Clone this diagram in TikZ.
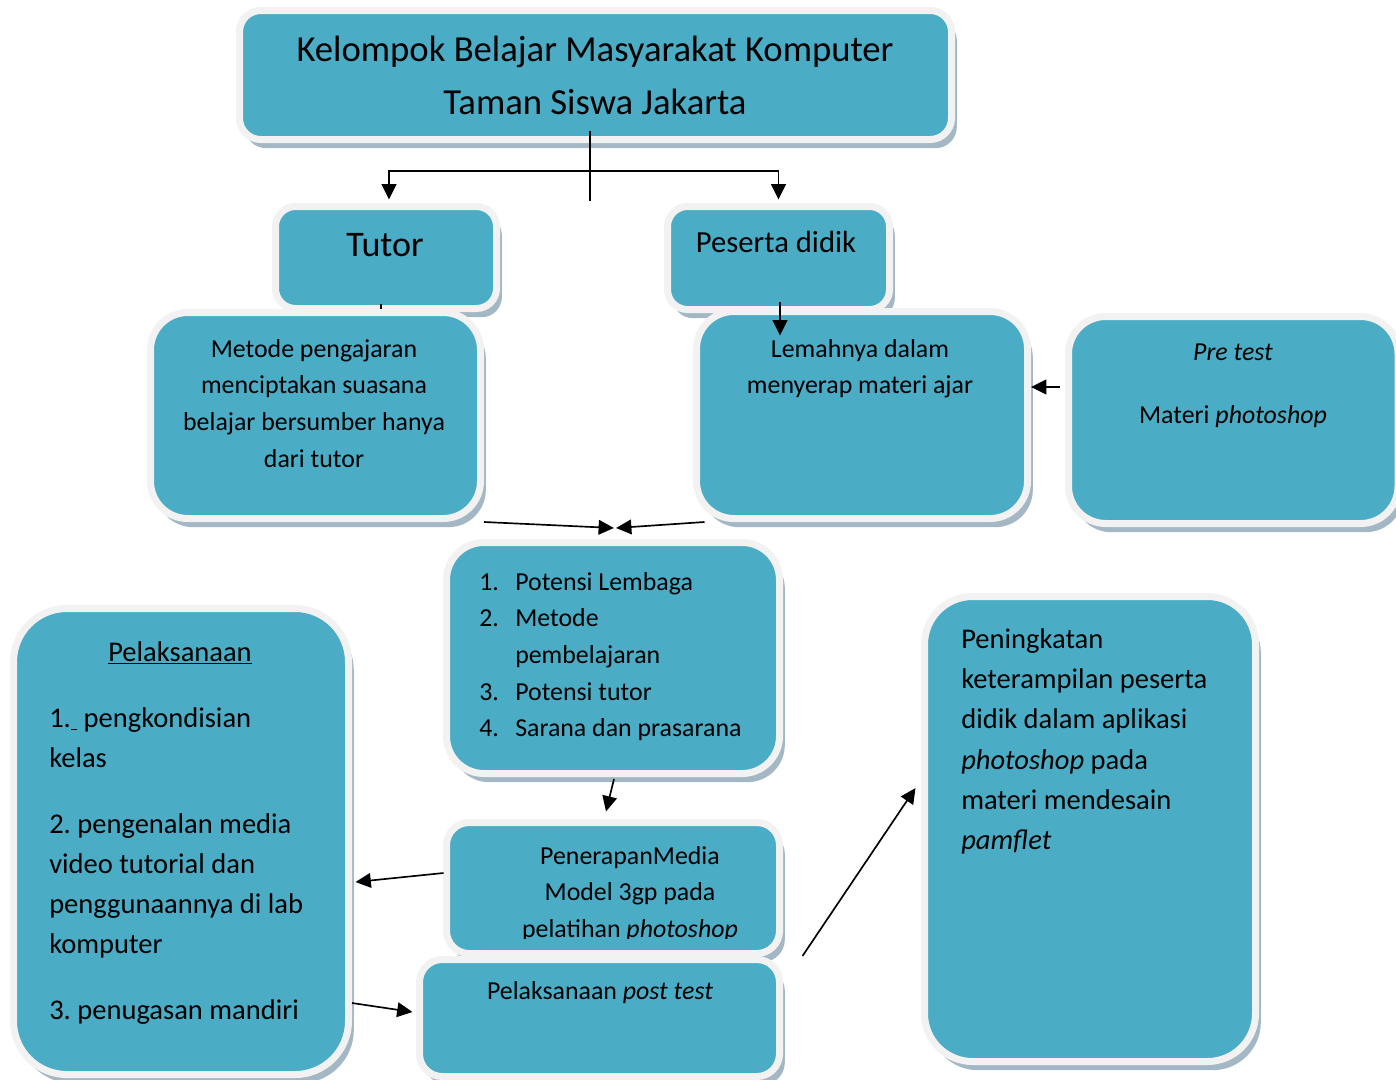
\documentclass[tikz,border=0pt]{standalone}
\usepackage{fontspec}
\setmainfont{Carlito}
\usepackage{tikz}
\usetikzlibrary{arrows.meta, calc, fit, shadows}
\frenchspacing

\definecolor{isi}{HTML}{4BACC6}
\definecolor{tepi}{HTML}{F2F2F2}
\definecolor{bayang}{HTML}{A3B8C4}

\begin{document}
\begin{tikzpicture}[
    x=0.75pt, y=-0.75pt,
    kotak/.style={fill=isi, draw=tepi, line width=5.25pt, rounded corners=#1, inner sep=0pt,
        drop shadow={shadow xshift=4pt, shadow yshift=-6.5pt, fill=bayang, opacity=1}},
    kotak/.default=15pt,
    teks/.style={inner sep=0pt, anchor=north, align=center, font=\fontsize{19.4}{27.5}\selectfont},
    garis/.style={line width=1.25pt},
    panah/.style={-{Triangle[length=11.5pt, width=11pt]}, line width=1.25pt},
]
\useasboundingbox (0,0) rectangle (1396,1079);

% judul
\node[kotak=16pt, fit={(239.5,10.5) (951.5,139.5)}] (judul) {};
\node[teks, font=\fontsize{27.5}{39.75}\selectfont] (tjudul) at (595,36)
    {Kelompok Belajar Masyarakat Komputer \\ Taman Siswa Jakarta};

\coordinate (cabang) at (590,171);
\draw[garis] ($(judul.south)+(-5.5,-12.5)$) -- ($(judul.south)+(-5.5,57.5)$);

% tutor dan peserta didik
\node[kotak, fit={(275.5,206.5) (496.5,308.5)}] (tutor) {};
\node[teks, font=\fontsize{27}{33}\selectfont] (ttutor) at (385,233) {Tutor};
\node[kotak, fit={(667.5,206.5) (889.5,309.5)}] (peserta) {};
\node[teks, font=\fontsize{23}{28}\selectfont] (tpeserta) at (776,231) {Peserta didik};

\draw[panah] (cabang) -| ([xshift=2.25pt, yshift=2.6pt]tutor.north);
\draw[panah] (cabang) -| ([yshift=2.6pt]peserta.north);
\draw[garis] ($(tutor.south)+(-5,-8)$) -- ($(tutor.south)+(-5,14)$);

% masalah
\node[kotak=28pt, fit={(150.5,312.5) (480.5,518.5)}] (metode) {};
\node[teks] (tmetode) at (314,339)
    {Metode pengajaran \\ menciptakan suasana \\ belajar bersumber hanya \\ dari tutor};
\node[kotak=28pt, fit={(696.5,311.5) (1027.5,518.5)}] (lemah) {};
\node[teks] (tlemah) at (860,339) {Lemahnya dalam \\ menyerap materi ajar};
\node[kotak=28pt, fit={(1068.5,316.5) (1398,523.5)}] (pretest) {};
\node[teks, font=\fontsize{19.4}{47.25}\selectfont] (tpretest) at (1233,344)
    {\textit{Pre test} \\ Materi \textit{photoshop}};

\draw[panah] ($(peserta.south)+(1.5,-11.5)$) -- ($(peserta.south)+(1.5,22.5)$);
\draw[panah] ($(pretest.west)+(-5.5,-33)$) -- ($(lemah.east)+(0,-28)$);

% potensi
\node[kotak=28pt, fit={(446.5,542.5) (779.5,773.5)}] (daftar) {};
\node[teks, anchor=north west, align=left] (tdaftar) at (479,572)
    {\makebox[27pt][l]{1.}Potensi Lembaga \\ \makebox[27pt][l]{2.}Metode \\
     \hspace*{27pt}pembelajaran \\ \makebox[27pt][l]{3.}Potensi tutor \\
     \makebox[27pt][l]{4.}Sarana dan prasarana};

\coordinate (temu) at (615,528);
\draw[panah] (metode.south east) -- ([xshift=-0.8pt]temu);
\draw[panah] ($(lemah.south west)+(11.5,0)$) -- ([xshift=0.8pt]temu);

% pelaksanaan
\node[kotak=40pt, fit={(13.5,608.5) (348.5,1074.5)}] (pelaks) {};
\node[teks, font=\fontsize{21.4}{30}\selectfont] (jpelaks) at (180,641.5) {\underline{Pelaksanaan}};
\node[teks, anchor=north west, align=left, font=\fontsize{21.4}{30}\selectfont] (tpelaks) at (49,707.5)
    {1.\underline{\hspace{0.22em}}\ pengkondisian \\ kelas \\[19.5pt]
     2. pengenalan media \\ video tutorial dan \\ penggunaannya di lab \\ komputer \\[19.5pt]
     3. penugasan mandiri};

\node[kotak=17pt, fit={(446.5,822.5) (779.5,953.5)}] (terap) {};
\begin{scope}
  \clip (440,830) rectangle (790,938.5);
  \node[teks] (tterap) at (630,846)
      {PenerapanMedia \\ Model 3gp pada \\ pelatihan \textit{photoshop}};
\end{scope}
\node[kotak=17pt, fit={(419.5,959.5) (779.5,1076.5)}] (post) {};
\node[teks] (tpost) at (600,981) {Pelaksanaan \textit{post test}};

\draw[panah] ($(daftar.south)+(1,2)$) -- ($(terap.north)+(-7,-7.5)$);
\draw[panah] ($(terap.west)+(0.5,-15)$) -- ($(pelaks.east)+(3.5,40.5)$);
\draw[panah] ($(pelaks.east)+(0,161.5)$) -- ($(post.west)+(-3.5,-6)$);

% hasil
\node[kotak=36pt, fit={(924.5,596.5) (1255.5,1061.5)}] (tingkat) {};
\node[teks, anchor=north west, align=left, font=\fontsize{21.4}{30.15}\selectfont] (ttingkat) at (961,628.5)
    {Peningkatan \\ keterampilan peserta \\ didik dalam aplikasi \\
     \textit{photoshop} pada \\ materi mendesain \\ \textit{pamflet}};

\draw[panah] ($(post.north east)+(19.5,0)$) -- ($(tingkat.west)+(-5.5,-41)$);

\end{tikzpicture}
\end{document}
